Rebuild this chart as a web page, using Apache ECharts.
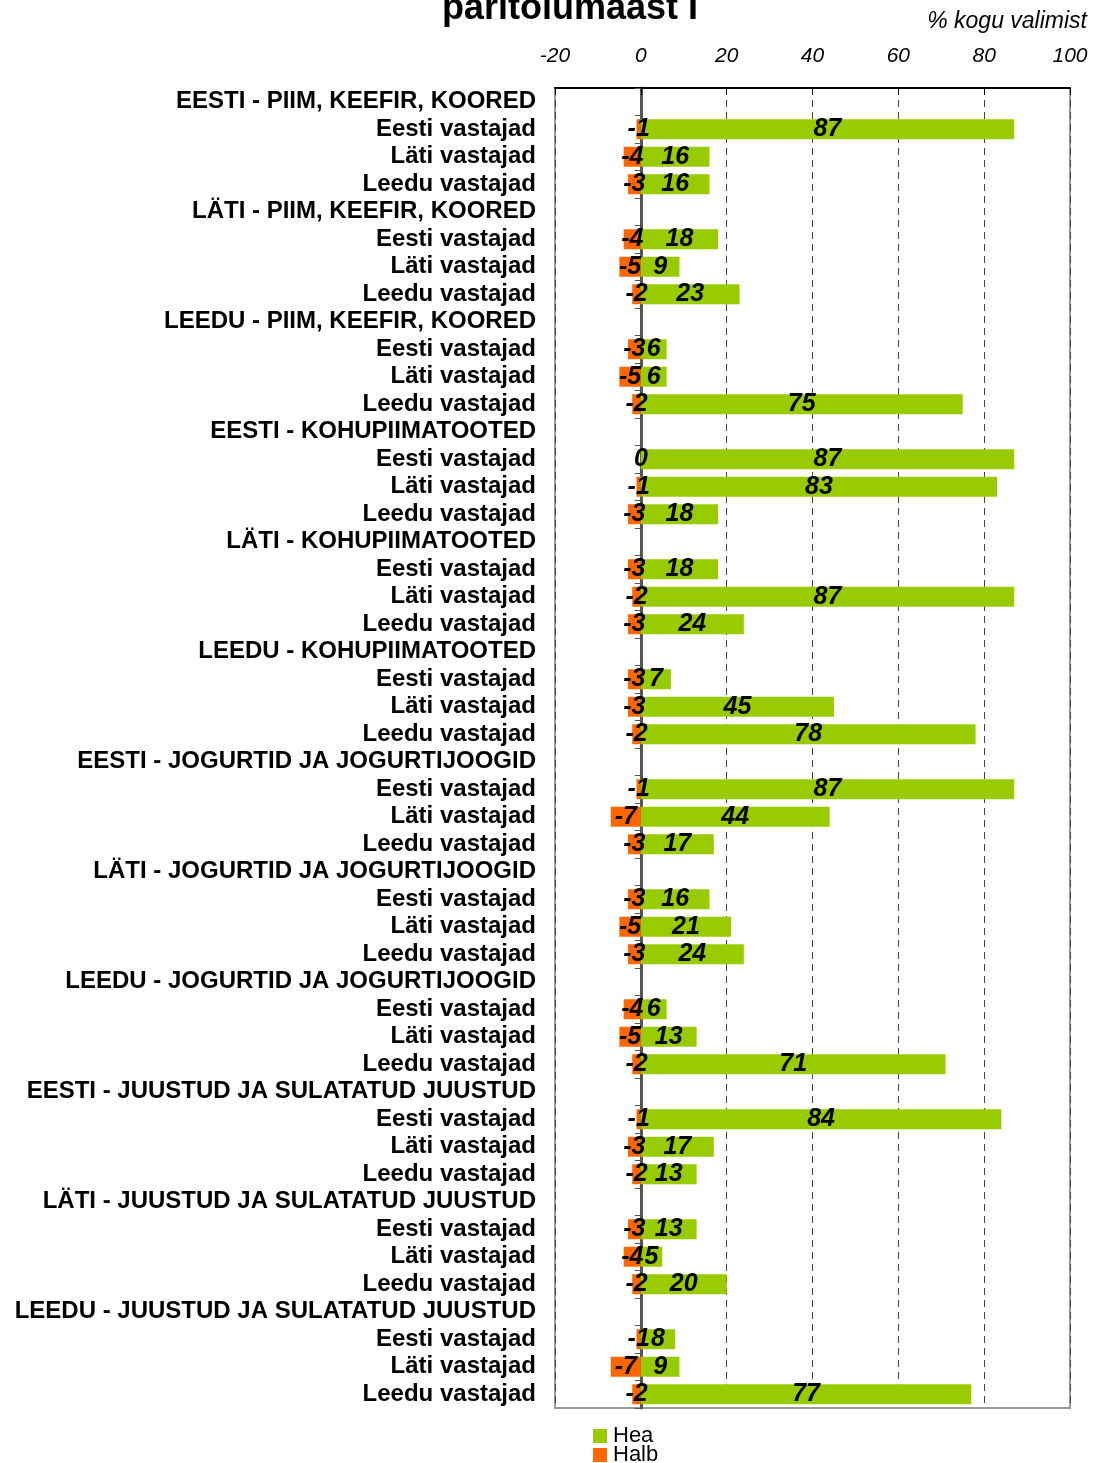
<!DOCTYPE html>
<html>
<head>
<meta charset="utf-8">
<script src="https://cdn.jsdelivr.net/npm/echarts@6/dist/echarts.min.js"></script>
<style>
  html, body { margin: 0; padding: 0; background: #fff; }
  #chart { width: 1093px; height: 1463px; }
</style>
</head>
<body>
<div id="chart"></div>
<script>
// Row labels, top to bottom (group headers have no values)
const categories = [
  'EESTI - PIIM, KEEFIR, KOORED', 'Eesti vastajad', 'Läti vastajad', 'Leedu vastajad',
  'LÄTI - PIIM, KEEFIR, KOORED', 'Eesti vastajad', 'Läti vastajad', 'Leedu vastajad',
  'LEEDU - PIIM, KEEFIR, KOORED', 'Eesti vastajad', 'Läti vastajad', 'Leedu vastajad',
  'EESTI - KOHUPIIMATOOTED', 'Eesti vastajad', 'Läti vastajad', 'Leedu vastajad',
  'LÄTI - KOHUPIIMATOOTED', 'Eesti vastajad', 'Läti vastajad', 'Leedu vastajad',
  'LEEDU - KOHUPIIMATOOTED', 'Eesti vastajad', 'Läti vastajad', 'Leedu vastajad',
  'EESTI - JOGURTID JA JOGURTIJOOGID', 'Eesti vastajad', 'Läti vastajad', 'Leedu vastajad',
  'LÄTI - JOGURTID JA JOGURTIJOOGID', 'Eesti vastajad', 'Läti vastajad', 'Leedu vastajad',
  'LEEDU - JOGURTID JA JOGURTIJOOGID', 'Eesti vastajad', 'Läti vastajad', 'Leedu vastajad',
  'EESTI - JUUSTUD JA SULATATUD JUUSTUD', 'Eesti vastajad', 'Läti vastajad', 'Leedu vastajad',
  'LÄTI - JUUSTUD JA SULATATUD JUUSTUD', 'Eesti vastajad', 'Läti vastajad', 'Leedu vastajad',
  'LEEDU - JUUSTUD JA SULATATUD JUUSTUD', 'Eesti vastajad', 'Läti vastajad', 'Leedu vastajad'
];

// Share of "good" answers, % of total sample (null = header row)
const hea = [
  null, 87, 16, 16,
  null, 18, 9, 23,
  null, 6, 6, 75,
  null, 87, 83, 18,
  null, 18, 87, 24,
  null, 7, 45, 78,
  null, 87, 44, 17,
  null, 16, 21, 24,
  null, 6, 13, 71,
  null, 84, 17, 13,
  null, 13, 5, 20,
  null, 8, 9, 77
];

// Share of "bad" answers, shown as negative values
const halb = [
  null, -1, -4, -3,
  null, -4, -5, -2,
  null, -3, -5, -2,
  null, 0, -1, -3,
  null, -3, -2, -3,
  null, -3, -3, -2,
  null, -1, -7, -3,
  null, -3, -5, -3,
  null, -4, -5, -2,
  null, -1, -3, -2,
  null, -3, -4, -2,
  null, -1, -7, -2
];

const xTicks = { min: -20, max: 100, interval: 20 };

const FONT = 'Liberation Sans, Arial, sans-serif';

const valueLabel = {
  show: true,
  position: 'inside',
  color: '#000',
  fontFamily: FONT,
  fontWeight: 'bold',
  fontStyle: 'italic',
  fontSize: 25,
  padding: [3, 0, 0, 0],
  formatter: p => (p.value === null || p.value === undefined) ? '' : String(p.value)
};

const legendCommon = {
  orient: 'vertical',
  left: 588,
  itemWidth: 14,
  itemHeight: 14,
  icon: 'rect',
  textStyle: { fontSize: 22, color: '#000', fontFamily: FONT, padding: [0, 0, 0, 1] }
};

const chart = echarts.init(document.getElementById('chart'), null, { renderer: 'canvas' });

chart.setOption({
  animation: false,
  backgroundColor: '#fff',
  textStyle: { fontFamily: FONT },
  title: {
    text: 'päritolumaast I',
    left: 565,
    textAlign: 'center',
    top: -14,
    textStyle: { fontSize: 36, fontWeight: 'bold', color: '#000', fontFamily: FONT }
  },
  graphic: [{
    type: 'text',
    right: 6,
    top: 10,
    style: {
      text: '% kogu valimist',
      font: 'italic 23px "Liberation Sans", Arial, sans-serif',
      fill: '#000'
    }
  }],
  legend: [
    Object.assign({}, legendCommon, { top: 1420, data: ['Hea'] }),
    Object.assign({}, legendCommon, { top: 1439, data: ['Halb'] })
  ],
  grid: {
    left: 555,
    right: 23,
    top: 88,
    bottom: 55,
    show: true,
    borderColor: '#999',
    borderWidth: 2
  },
  xAxis: {
    type: 'value',
    position: 'top',
    min: xTicks.min,
    max: xTicks.max,
    interval: xTicks.interval,
    axisLine: { show: true, lineStyle: { color: '#000', width: 2 } },
    axisTick: { show: true, inside: true, length: 7, lineStyle: { color: '#000' } },
    axisLabel: {
      margin: 21,
      fontSize: 21,
      fontStyle: 'italic',
      color: '#000'
    },
    splitLine: {
      show: true,
      lineStyle: { type: [7, 5], color: '#444', width: 1 }
    }
  },
  yAxis: {
    type: 'category',
    inverse: true,
    data: categories,
    axisLine: { show: true, lineStyle: { color: '#555', width: 3 } },
    axisTick: { show: true, length: 6, lineStyle: { color: '#555' } },
    axisLabel: {
      margin: 19,
      fontSize: 24,
      fontWeight: 'bold',
      color: '#000',
      interval: 0,
      padding: [3, 0, 0, 0]
    },
    splitLine: { show: false }
  },
  series: [
    {
      name: 'Hea',
      type: 'bar',
      data: hea,
      barWidth: 20,
      barGap: '-100%',
      itemStyle: { color: '#99CC00' },
      label: valueLabel,
      z: 2
    },
    {
      name: 'Halb',
      type: 'bar',
      data: halb,
      barWidth: 20,
      itemStyle: { color: '#FF6600' },
      label: valueLabel,
      z: 3
    }
  ]
});
</script>
</body>
</html>
